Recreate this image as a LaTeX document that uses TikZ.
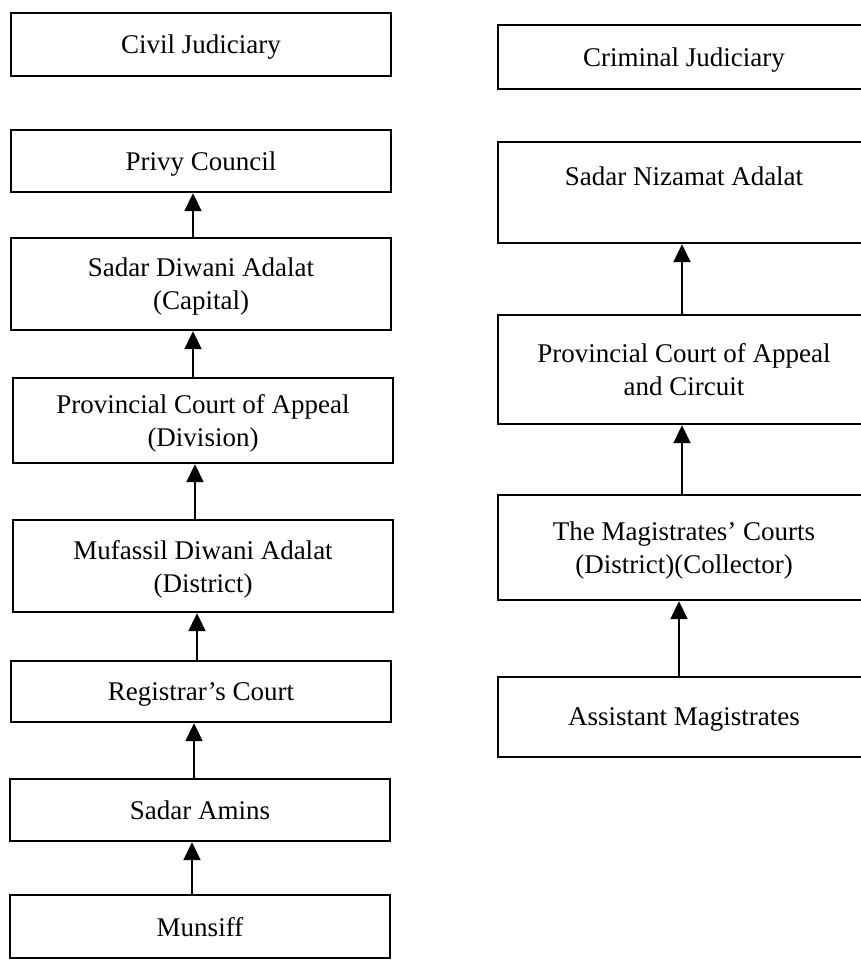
\documentclass[tikz,border=0pt]{standalone}
\usepackage{fontspec}
\setmainfont{Liberation Serif}
\usetikzlibrary{arrows.meta}

\begin{document}
\begin{tikzpicture}[
  x=1pt, y=-1pt,
  court/.style={draw=black, line width=2.4pt, fill=white, inner sep=0pt,
    text depth=0pt, align=center, font=\fontsize{27}{33}\selectfont},
  leftbox/.style={court, minimum width=380pt},
  rightbox/.style={court, minimum width=372pt},
  up/.style={line width=2pt, -{Triangle[width=17pt,length=18pt]}}
]
\useasboundingbox (0,0) rectangle (861,964);
\fill[white] (0,0) rectangle (861,964);
\clip (0,0) rectangle (861,964);

% Civil side
\node[leftbox, minimum height=63pt] (civil)     at (201,44.5) {Civil Judiciary};
\node[leftbox, minimum height=62pt] (privy)     at (201,161)  {Privy Council};
\node[leftbox, minimum height=92pt] (diwani)    at (201,284)  {Sadar Diwani Adalat\\(Capital)};
\node[leftbox, minimum height=85pt] (provdiv)   at (203,420.5){Provincial Court of Appeal\\(Division)};
\node[leftbox, minimum height=92pt] (mufassil)  at (203,566)  {Mufassil Diwani Adalat\\(District)};
\node[leftbox, minimum height=61pt] (registrar) at (201,691.5){Registrar’s Court};
\node[leftbox, minimum height=62pt] (amins)     at (200,810)  {Sadar Amins};
\node[leftbox, minimum height=63pt] (munsiff)   at (200,926.5){Munsiff};

% Criminal side
\node[rightbox, minimum height=64pt]  (criminal)  at (684,57)   {Criminal Judiciary};
\node[rightbox, minimum height=101pt] (nizamat)   at (684,192.5){Sadar Nizamat Adalat\\\mbox{}};
\node[rightbox, minimum height=109pt] (provcirc)  at (684,369.5){Provincial Court of Appeal\\and Circuit};
\node[rightbox, minimum height=105pt] (magis)     at (684,547.5){The Magistrates’ Courts\\(District)(Collector)};
\node[rightbox, minimum height=80pt]  (assistant) at (684,717)  {Assistant Magistrates};

% Appeals run upward
\draw[up] ([xshift=-8pt]diwani.north)    -- ([xshift=-8pt]privy.south);
\draw[up] ([xshift=-10pt]provdiv.north)  -- ([xshift=-10pt]provdiv.north |- diwani.south);
\draw[up] ([xshift=-8pt]mufassil.north)  -- ([xshift=-8pt]mufassil.north |- provdiv.south);
\draw[up] ([xshift=-4pt]registrar.north) -- ([xshift=-4pt]registrar.north |- mufassil.south);
\draw[up] ([xshift=-6pt]amins.north)     -- ([xshift=-6pt]amins.north |- registrar.south);
\draw[up] ([xshift=-8pt]munsiff.north)   -- ([xshift=-8pt]munsiff.north |- amins.south);

\draw[up] ([xshift=-2pt]provcirc.north)  -- ([xshift=-2pt]nizamat.south);
\draw[up] ([xshift=-2pt]magis.north)     -- ([xshift=-2pt]provcirc.south);
\draw[up] ([xshift=-5pt]assistant.north) -- ([xshift=-5pt]magis.south);
\end{tikzpicture}
\end{document}
